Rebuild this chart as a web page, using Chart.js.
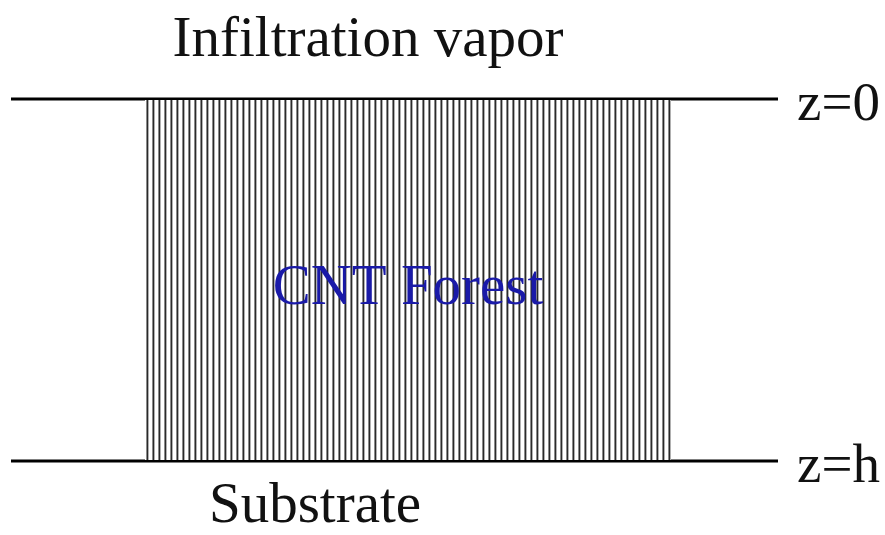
<!DOCTYPE html>
<html>
<head>
<meta charset="utf-8">
<script src="https://cdn.jsdelivr.net/npm/chart.js@4.4.0/dist/chart.umd.min.js"></script>
<style>
  html, body { margin: 0; padding: 0; background: #fff; }
  #wrap { width: 885px; height: 535px; }
</style>
</head>
<body>
<div id="wrap"><canvas id="diagram"></canvas></div>
<script>
// Diagram data (canvas-sized units, y grows downward)
const surfaceNames = ["z=0", "z=h"];
const surfaceLevels = [99, 461];
const surfaceExtent = [11, 778];
const forestExtent = [145, 671];
const forestLevels = [100, 460];
const captions = ["Infiltration vapor", "CNT Forest", "Substrate"];

// Hatch pattern for the CNT forest (vertical tubes)
const makeHatch = () => {
  const c = document.createElement("canvas");
  c.width = 6;
  c.height = 6;
  const g = c.getContext("2d");
  g.fillStyle = "#ffffff";
  g.fillRect(0, 0, 6, 6);
  g.fillStyle = "#8a8a8a";
  g.fillRect(2, 0, 1, 6);
  g.fillStyle = "#2a2a2a";
  g.fillRect(3, 0, 1, 6);
  g.fillStyle = "#b0b0b0";
  g.fillRect(4, 0, 1, 6);
  return g.createPattern(c, "repeat");
};

// Text labels placed through the scales
const labelPlugin = {
  id: "diagramLabels",
  afterDatasetsDraw(chart) {
    const { ctx, scales } = chart;
    const x = scales.x, y = scales.y;
    ctx.save();
    ctx.textBaseline = "alphabetic";
    ctx.fillStyle = "#111";
    ctx.font = "57px 'Liberation Serif', 'Times New Roman', serif";
    ctx.textAlign = "center";
    ctx.fillText(captions[0], x.getPixelForValue(368), y.getPixelForValue(56));
    ctx.fillText(captions[2], x.getPixelForValue(315), y.getPixelForValue(522));

    ctx.fillStyle = "#1a1aa8";
    ctx.fillText(captions[1], x.getPixelForValue(408), y.getPixelForValue(304));

    ctx.fillStyle = "#111";
    ctx.textAlign = "left";
    ctx.font = "55px 'Liberation Serif', 'Times New Roman', serif";
    surfaceNames.forEach((name, i) => {
      ctx.fillText(name, x.getPixelForValue(797), y.getPixelForValue(surfaceLevels[i] + 21));
    });
    ctx.restore();
  }
};

const ctx = document.getElementById("diagram").getContext("2d");

const datasets = [
  {
    // forest block, filled down to the substrate level
    data: [
      { x: forestExtent[0], y: forestLevels[0] },
      { x: forestExtent[1], y: forestLevels[0] }
    ],
    showLine: true,
    borderWidth: 0,
    pointRadius: 0,
    backgroundColor: makeHatch(),
    fill: { value: forestLevels[1] }
  }
];

surfaceLevels.forEach((level) => {
  datasets.push({
    data: [
      { x: surfaceExtent[0], y: level },
      { x: surfaceExtent[1], y: level }
    ],
    showLine: true,
    borderColor: "#000",
    borderWidth: 3,
    pointRadius: 0,
    fill: false
  });
});

new Chart(ctx, {
  type: "scatter",
  data: { datasets },
  options: {
    responsive: true,
    maintainAspectRatio: false,
    animation: false,
    layout: { padding: 0 },
    plugins: {
      legend: { display: false },
      tooltip: { enabled: false }
    },
    scales: {
      x: { type: "linear", min: 0, max: 885, display: false },
      y: { type: "linear", min: 0, max: 535, reverse: true, display: false }
    }
  },
  plugins: [labelPlugin]
});
</script>
</body>
</html>
